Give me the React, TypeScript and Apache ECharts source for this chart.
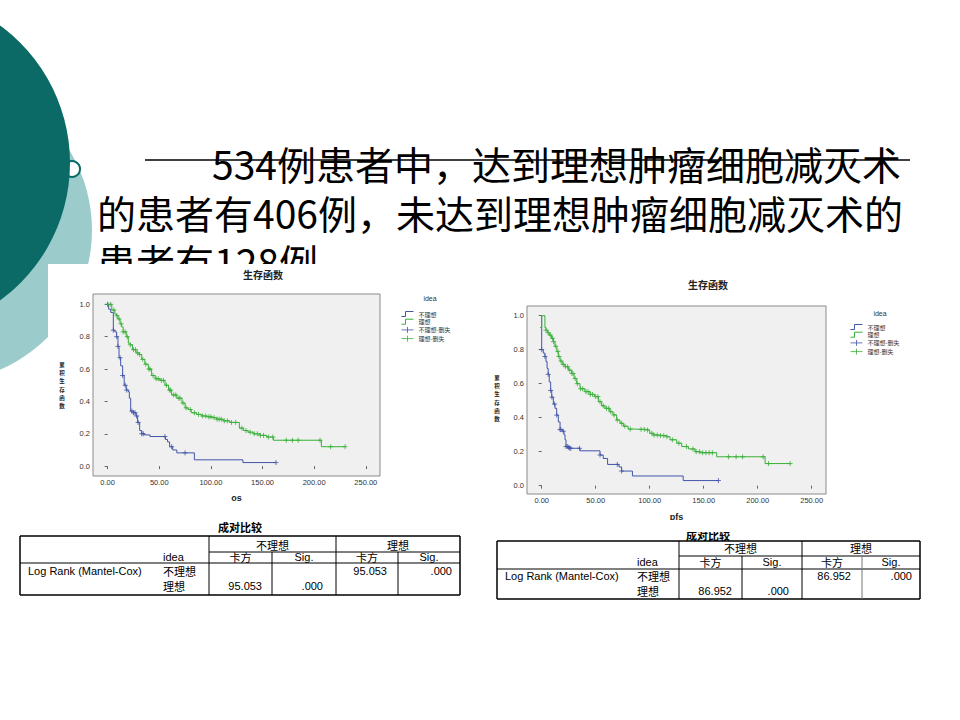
import React, { useEffect, useRef } from "react";
import * as echarts from "echarts";

// ---------- text ----------
const titleLines = [
  "534例患者中，达到理想肿瘤细胞减灭术",
  "的患者有406例，未达到理想肿瘤细胞减灭术的",
  "患者有128例",
];
const chartTitle = "生存函数";
const yAxisTitle = "累积生存函数";
const legendTitle = "idea";
const groupNames = ["不理想", "理想", "不理想-删失", "理想-删失"];
const xTicks = [0, 50, 100, 150, 200, 250];
const yTicks = [0, 0.2, 0.4, 0.6, 0.8, 1.0];

// ---------- OS (left chart) ----------
const osPoorT = [0, 1, 3, 5.5, 7, 8.7, 10, 11, 12.6, 14.5, 16, 18, 20, 21, 22.3, 25, 27.5, 29, 31, 33, 35.5, 41, 56, 58, 60, 63, 67, 84, 131, 163];
const osPoorS = [1.0, 0.97, 0.95, 0.84, 0.83, 0.8, 0.74, 0.67, 0.62, 0.56, 0.5, 0.47, 0.46, 0.42, 0.34, 0.33, 0.31, 0.27, 0.22, 0.2, 0.193, 0.183, 0.165, 0.15, 0.12, 0.1, 0.082, 0.039, 0.022, 0.022];
const osPoorCensor = [0, 5.5, 8.7, 10, 12, 14.5, 17, 18.5, 23.5, 25, 26.5, 28, 29.5, 33, 34.5, 55.5, 62, 75, 163];

const osGoodT = [0, 4, 7, 8.7, 10, 12, 13.6, 15, 18, 20, 21.6, 24, 27.5, 30.7, 33, 36, 39.4, 42.6, 46, 50.7, 55.5, 59, 62, 67, 72, 75, 78, 81, 86, 91, 96, 101, 105.6, 112, 118.5, 127.6, 131.5, 136, 141, 147.6, 154, 160.5, 207, 230];
const osGoodS = [1.0, 0.965, 0.94, 0.93, 0.91, 0.88, 0.86, 0.83, 0.8, 0.76, 0.75, 0.72, 0.7, 0.69, 0.66, 0.63, 0.6, 0.56, 0.54, 0.53, 0.5, 0.47, 0.44, 0.42, 0.39, 0.36, 0.35, 0.33, 0.32, 0.31, 0.305, 0.3, 0.29, 0.28, 0.27, 0.235, 0.22, 0.21, 0.2, 0.19, 0.18, 0.16, 0.12, 0.12];
const osGoodCensor = [0, 3, 6, 9, 11, 13, 15, 17, 19, 22, 25, 27, 29, 31, 34, 37, 40, 41, 44, 47, 49, 52, 54, 57, 60, 61, 64, 66, 69, 70, 73, 76, 80, 84, 88, 92, 95, 98, 100, 103, 106, 108, 110, 113, 116, 120, 124, 130, 134, 138, 142, 145, 148, 151, 155.6, 160, 173, 179, 184.5, 205.7, 216, 230];

// ---------- PFS (right chart) ----------
const pfsPoorT = [0, 0, 1.5, 3, 4, 5, 6, 7, 8.3, 9.3, 10.8, 12.3, 13.9, 15.4, 17, 19, 20.7, 21.6, 22.5, 24.7, 26, 35.5, 54, 57, 61, 71.6, 74, 84, 131, 163.6];
const pfsPoorS = [1.0, 0.8, 0.78, 0.76, 0.73, 0.69, 0.655, 0.61, 0.56, 0.52, 0.48, 0.455, 0.415, 0.375, 0.33, 0.32, 0.3, 0.27, 0.23, 0.225, 0.22, 0.205, 0.18, 0.16, 0.125, 0.11, 0.086, 0.057, 0.03, 0.03];
const pfsPoorCensor = [0, 3, 6, 8.3, 9.5, 12, 13.9, 17, 17.8, 20, 22.5, 24, 25, 26, 27, 35, 54, 70, 74, 163.6];

const pfsGoodT = [-1.5, 0, 0, 3, 3, 4, 5.5, 7, 9, 10.8, 12.3, 14, 15.4, 17, 19, 21.6, 24.7, 27.8, 30, 32.4, 35.5, 40, 44.8, 49, 52.5, 55.5, 58.6, 63, 66, 69.4, 72.5, 75.6, 80, 86, 95.7, 100, 103.4, 108, 115.7, 118.8, 125, 129.6, 135.8, 142, 146.6, 162, 206.8, 230];
const pfsGoodS = [0.93, 0.93, 1.0, 1.0, 0.93, 0.915, 0.9, 0.886, 0.867, 0.847, 0.82, 0.79, 0.76, 0.733, 0.714, 0.7, 0.68, 0.66, 0.63, 0.6, 0.57, 0.553, 0.537, 0.524, 0.494, 0.47, 0.455, 0.435, 0.416, 0.386, 0.367, 0.35, 0.333, 0.331, 0.327, 0.308, 0.298, 0.294, 0.288, 0.27, 0.25, 0.23, 0.216, 0.2, 0.194, 0.17, 0.13, 0.13];
const pfsGoodCensor = [4, 6, 8, 10, 11, 13, 15, 16, 18, 20, 22, 24, 26, 28, 29, 31, 33, 36, 38, 41, 43, 45, 47, 50, 52, 54, 57, 60, 62, 64, 67, 70, 74, 77, 82, 92, 95, 98, 102, 104, 107, 110, 113, 116, 121, 127, 134, 140, 143, 146, 149, 152, 155, 158, 173, 180, 186, 205, 210, 230];

// ---------- tables ----------
const tableTitle = "成对比较";
const tableRowLabel = "Log Rank (Mantel-Cox)";
const tableColHeads = ["卡方", "Sig."];
const osChi = "95.053";
const pfsChi = "86.952";
const sigValue = ".000";

const BLUE = "#4255A8";
const GREEN = "#38B038";
const TEAL_DARK = "#0B6A65";
const TEAL_LIGHT = "#9BCBCB";
const CJK = "'Noto Sans CJK SC', sans-serif";
const LAT = "'Liberation Sans', Arial, 'Noto Sans CJK SC', sans-serif";

const CROSS = "path://M0,2.5L5,2.5M2.5,0L2.5,5";
const STEP_ICON = "path://M0,5.5L4,5.5L4,0.5L12,0.5";
const CROSS_ICON = "path://M0,3L12,3M6,0L6,6";

function survAt(T: number[], S: number[], t: number) {
  let v = S[0];
  for (let i = 0; i < T.length; i++) if (T[i] <= t) v = S[i];
  return v;
}
const zip = (T: number[], S: number[]) => T.map((t, i) => [t, S[i]]);

function makeAxes(gi: number, xMin: number, xMax: number, yMin: number, yMax: number, xName: string, nameGap: number) {
  const x = {
    type: "value",
    gridIndex: gi,
    min: xMin,
    max: xMax,
    name: xName,
    nameLocation: "middle",
    nameGap,
    nameTextStyle: { fontSize: 9, fontWeight: "bold", color: "#222", fontFamily: LAT },
    axisLine: { show: false },
    splitLine: { show: false },
    axisTick: { show: true, customValues: xTicks, length: 3, lineStyle: { color: "#666" } },
    axisLabel: {
      customValues: xTicks,
      formatter: (v: number) => v.toFixed(2),
      fontSize: 7.5,
      color: "#333",
      margin: 3,
      fontFamily: LAT,
    },
  };
  const y = {
    type: "value",
    gridIndex: gi,
    min: yMin,
    max: yMax,
    axisLine: { show: false },
    splitLine: { show: false },
    axisTick: { show: true, customValues: yTicks, length: 3, lineStyle: { color: "#666" } },
    axisLabel: {
      customValues: yTicks,
      formatter: (v: number) => v.toFixed(1),
      fontSize: 7.5,
      color: "#333",
      margin: 3,
      fontFamily: LAT,
    },
  };
  return { x, y };
}

function makeSeries(gi: number, poorT: number[], poorS: number[], poorC: number[], goodT: number[], goodS: number[], goodC: number[]) {
  return [
    {
      name: groupNames[0], type: "line", xAxisIndex: gi, yAxisIndex: gi, step: "end", symbol: "none",
      data: zip(poorT, poorS), lineStyle: { color: BLUE, width: 1 }, itemStyle: { color: BLUE }, z: 3,
    },
    {
      name: groupNames[1], type: "line", xAxisIndex: gi, yAxisIndex: gi, step: "end", symbol: "none",
      data: zip(goodT, goodS), lineStyle: { color: GREEN, width: 1 }, itemStyle: { color: GREEN }, z: 3,
    },
    {
      name: groupNames[2], type: "scatter", xAxisIndex: gi, yAxisIndex: gi, symbol: CROSS, symbolSize: 5,
      data: poorC.map((t) => [t, survAt(poorT, poorS, t)]),
      itemStyle: { color: BLUE, borderColor: BLUE, borderWidth: 1 }, z: 4,
    },
    {
      name: groupNames[3], type: "scatter", xAxisIndex: gi, yAxisIndex: gi, symbol: CROSS, symbolSize: 5,
      data: goodC.map((t) => [t, survAt(goodT, goodS, t)]),
      itemStyle: { color: GREEN, borderColor: GREEN, borderWidth: 1 }, z: 4,
    },
  ];
}

function makeLegend(left: number, top: number) {
  const cols = [BLUE, GREEN, BLUE, GREEN];
  const icons = [STEP_ICON, STEP_ICON, CROSS_ICON, CROSS_ICON];
  return {
    orient: "vertical",
    left,
    top,
    padding: 0,
    itemWidth: 12,
    itemHeight: 6,
    itemGap: 1.7,
    selectedMode: false,
    textStyle: { fontSize: 6, color: "#333", fontFamily: CJK, padding: [0, 0, 0, 0] },
    data: groupNames.map((n, i) => ({
      name: n,
      icon: icons[i],
      itemStyle: { color: "rgba(0,0,0,0)", borderColor: cols[i], borderWidth: 1 },
    })),
  };
}

const T = (x: number, y: number, text: string, o: any = {}) => ({
  type: "text",
  x,
  y,
  z: o.z ?? 10,
  silent: true,
  style: {
    text,
    fontSize: o.fontSize ?? 11,
    fontFamily: o.fontFamily ?? LAT,
    fontWeight: o.fontWeight ?? "normal",
    fill: o.fill ?? "#000",
    align: o.align ?? "left",
    textAlign: o.align ?? "left",
    verticalAlign: "middle",
    textVerticalAlign: "middle",
  },
});
const HL = (x1: number, x2: number, y: number, w = 1) => ({
  type: "line", z: 10, silent: true,
  shape: { x1, y1: y, x2, y2: y }, style: { stroke: "#000", lineWidth: w },
});
const VL = (x: number, y1: number, y2: number, w = 1, c = "#000") => ({
  type: "line", z: 10, silent: true,
  shape: { x1: x, y1, x2: x, y2 }, style: { stroke: c, lineWidth: w },
});

// vertical stacked CJK axis title, one glyph per row
function verticalTitle(cx: number, yTop: number, step: number) {
  return yAxisTitle.split("").map((ch, i) =>
    T(cx, yTop + i * step, ch, { fontFamily: CJK, fontWeight: "bold", fontSize: 5.5, align: "center", fill: "#222" })
  );
}

function makeTable(o: any) {
  const { x0, x1, y0, y1, yH1, yH2, c1, c2, c3, c4, labX, rowY1, rowY2, headY1, headY2, chi, titleX, titleY } = o;
  const els: any[] = [];
  els.push(T(titleX, titleY, tableTitle, { fontFamily: CJK, fontWeight: "bold", fontSize: 11, align: "center" }));
  els.push(HL(x0, x1, y0, 1.5), HL(x0, x1, y1, 1.5), VL(x0, y0, y1, 1.5), VL(x1, y0, y1, 1.5));
  els.push(HL(c1, x1, yH1), HL(x0, x1, yH2));
  els.push(VL(c1, y0, y1), VL(c3, y0, y1), VL(c2, yH1, y1), VL(c4, yH1, y1, 1, o.c4col ?? "#000"));
  els.push(T((c1 + c3) / 2, headY1, groupNames[0], { fontFamily: CJK, align: "center" }));
  els.push(T((c3 + x1) / 2, headY1, groupNames[1], { fontFamily: CJK, align: "center" }));
  els.push(T(labX, headY2, legendTitle));
  els.push(T((c1 + c2) / 2, headY2, tableColHeads[0], { fontFamily: CJK, align: "center" }));
  els.push(T((c2 + c3) / 2, headY2, tableColHeads[1], { align: "center" }));
  els.push(T((c3 + c4) / 2, headY2, tableColHeads[0], { fontFamily: CJK, align: "center" }));
  els.push(T((c4 + x1) / 2, headY2, tableColHeads[1], { align: "center" }));
  els.push(T(x0 + 8, rowY1, tableRowLabel));
  els.push(T(labX, rowY1, groupNames[0], { fontFamily: CJK }));
  els.push(T(labX, rowY2, groupNames[1], { fontFamily: CJK }));
  els.push(T(c4 - 11, rowY1, chi, { align: "right" }));
  els.push(T(x1 - 8, rowY1, sigValue, { align: "right" }));
  els.push(T(c2 - 10, rowY2, chi, { align: "right" }));
  els.push(T(c3 - 13, rowY2, sigValue, { align: "right" }));
  return els;
}

export default function App() {
  const ref = useRef<HTMLDivElement>(null);
  useEffect(() => {
    if (!ref.current) return;
    const chart = echarts.init(ref.current, null, { renderer: "svg", width: 960, height: 720 });
    const a0 = makeAxes(0, -14.2, 263.8, -0.061, 1.064, "os", 17);
    const a1 = makeAxes(1, -13.6, 263.2, -0.049, 1.057, "pfs", 18);

    const graphics: any[] = [
      // decorative circles
      { type: "circle", z: -6, silent: true, shape: { cx: -60, cy: 230, r: 152 }, style: { fill: TEAL_LIGHT } },
      { type: "circle", z: -5, silent: true, shape: { cx: 72, cy: 169, r: 8 }, style: { fill: "#fff", stroke: TEAL_DARK, lineWidth: 2 } },
      { type: "circle", z: -4, silent: true, shape: { cx: -100, cy: 163, r: 170 }, style: { fill: TEAL_DARK } },
      // slide title
      T(212, 163, titleLines[0], { fontFamily: CJK, fontSize: 39, z: -3 }),
      T(97, 212, titleLines[1], { fontFamily: CJK, fontSize: 39, z: -3 }),
      T(97, 261, titleLines[2], { fontFamily: CJK, fontSize: 39, z: -3 }),
      { type: "line", z: -3, silent: true, shape: { x1: 145, y1: 160, x2: 910, y2: 160 }, style: { stroke: "#000", lineWidth: 1.5 } },
      // pasted chart image background (covers part of title & circle)
      { type: "rect", z: -2, silent: true, shape: { x: 48, y: 264, width: 432, height: 250 }, style: { fill: "#fff" } },
      // chart titles
      T(263, 274, chartTitle, { fontFamily: CJK, fontWeight: "bold", fontSize: 10, align: "center", fill: "#222" }),
      T(708, 284, chartTitle, { fontFamily: CJK, fontWeight: "bold", fontSize: 10, align: "center", fill: "#222" }),
      // y axis titles
      ...verticalTitle(62, 365, 8.2),
      ...verticalTitle(497, 378, 8.2),
      // legend titles
      T(430, 298, legendTitle, { fontSize: 7, align: "center", fill: "#333" }),
      T(880, 313, legendTitle, { fontSize: 7, align: "center", fill: "#333" }),
      ...makeTable({
        x0: 20, x1: 460, y0: 536, y1: 595, yH1: 552, yH2: 563,
        c1: 209, c2: 272, c3: 336, c4: 398, labX: 163,
        headY1: 545, headY2: 557, rowY1: 571, rowY2: 586, chi: osChi,
        titleX: 240, titleY: 527,
      }),
      ...makeTable({
        x0: 497, x1: 920, y0: 541, y1: 599, yH1: 556, yH2: 569,
        c1: 679, c2: 742, c3: 802, c4: 862, labX: 637, c4col: "#777",
        headY1: 548, headY2: 562, rowY1: 576, rowY2: 591, chi: pfsChi,
        titleX: 708, titleY: 535,
      }),
      // partially hidden second table title
      { type: "rect", z: 11, silent: true, shape: { x: 670, y: 520, width: 80, height: 12 }, style: { fill: "#fff" } },
    ];

    chart.setOption({
      animation: false,
      backgroundColor: "#fff",
      grid: [
        { left: 93, top: 294, width: 287, height: 182, show: true, backgroundColor: "#F0F0F0", borderColor: "#8a8a8a", borderWidth: 1 },
        { left: 527, top: 306, width: 299, height: 188, show: true, backgroundColor: "#F0F0F0", borderColor: "#8a8a8a", borderWidth: 1 },
      ],
      xAxis: [a0.x, a1.x],
      yAxis: [a0.y, a1.y],
      legend: [makeLegend(401, 311), makeLegend(850, 324)],
      series: [
        ...makeSeries(0, osPoorT, osPoorS, osPoorCensor, osGoodT, osGoodS, osGoodCensor),
        ...makeSeries(1, pfsPoorT, pfsPoorS, pfsPoorCensor, pfsGoodT, pfsGoodS, pfsGoodCensor),
      ],
      graphic: { elements: graphics },
    });
    return () => chart.dispose();
  }, []);
  return (
    <div
      ref={ref}
      style={{ position: "fixed", left: 0, top: 0, width: 960, height: 720, background: "#fff" }}
    />
  );
}
